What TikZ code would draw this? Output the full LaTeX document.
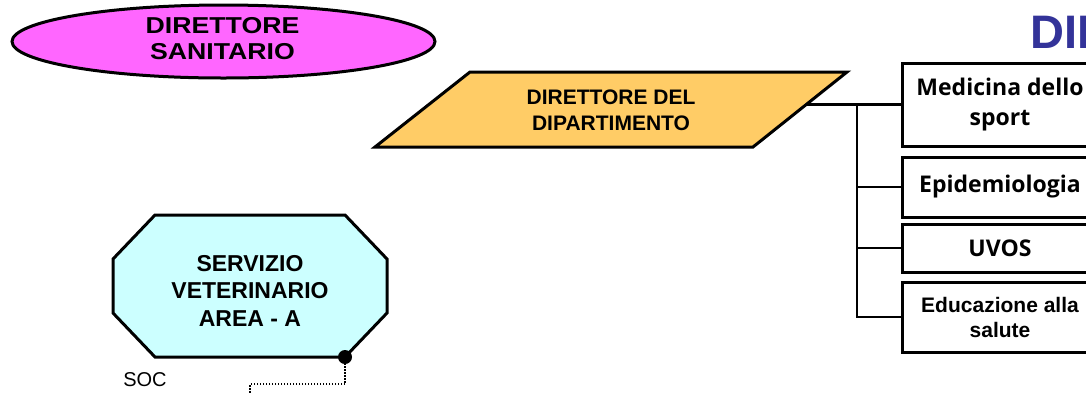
\documentclass[tikz,border=0pt]{standalone}
\usepackage{fontspec}
\setmainfont{Liberation Sans}
\newfontfamily\widefont{Liberation Sans}[FakeStretch=1.16]
\newfontfamily\boxfont{Open Sans}
\usetikzlibrary{shapes.geometric}
\definecolor{magentafill}{RGB}{255,102,255}
\definecolor{orangefill}{RGB}{255,204,102}
\definecolor{cyanfill}{RGB}{204,255,255}
\definecolor{titleblue}{RGB}{51,51,153}
\begin{document}
\begin{tikzpicture}[x=1pt,y=-1pt,
  outline/.style={draw=black, line width=3pt, line join=miter},
  conn/.style={draw=black, line width=2.5pt},
  dotline/.style={draw=black, line width=2pt, dash pattern=on 1.5pt off 1.5pt},
  unit/.style={outline, fill=white, minimum width=196pt, inner sep=0pt, align=center}]
\useasboundingbox (0,0) rectangle (1086,392);
\clip (0,0) rectangle (1086,392);

% title (cut off at the right edge)
\node[anchor=base west, inner sep=0pt, text=titleblue,
      font=\bfseries\fontsize{47}{50}\selectfont] (title) at (1030,48) {DIP};

% Direttore sanitario
\node[ellipse, outline, fill=magentafill, minimum width=423pt, minimum height=73pt,
      inner sep=0pt] (ds) at (223.5,41.5) {};
\node[inner sep=0pt, align=center, font=\widefont\bfseries\fontsize{23}{26}\selectfont] (dslabel) at (222.5,38.5) {DIRETTORE\\SANITARIO};

% Direttore del dipartimento (parallelogram)
\draw[outline, fill=orangefill] (470,72) -- (847,72) -- (753,147) -- (375,147) -- cycle;
\node[inner sep=0pt, align=center, font=\bfseries\fontsize{21}{25.5}\selectfont] (dd) at (611,110.3) {DIRETTORE DEL\\DIPARTIMENTO};
\coordinate (ddr) at (806,104.5);

% units
\node[unit, minimum height=83pt, font=\boxfont\bfseries\fontsize{23}{30}\selectfont] (med) at (1000,104.5) {Medicina dello\\sport};
\node[unit, minimum height=60pt, font=\boxfont\bfseries\fontsize{23}{28}\selectfont] (epi) at (1000,187) {Epidemiologia};
\node[unit, minimum height=48pt, font=\boxfont\bfseries\fontsize{23}{28}\selectfont] (uvos) at (1000,248) {UVOS};
\node[unit, minimum height=70pt, font=\bfseries\fontsize{21}{25}\selectfont] (edu) at (1000,317) {Educazione alla\\salute};

% connectors
\coordinate (bt) at (857,104.5);
\draw[conn] (ddr) -- (med.west);
\draw[conn] (bt) |- (edu.west);
\draw[conn] (bt |- epi.west) -- (epi.west);
\draw[conn] (bt |- uvos.west) -- (uvos.west);

% Servizio veterinario (octagon)
\draw[outline, fill=cyanfill] (155,215) -- (345,215) -- (387,259) -- (387,313) -- (345,357)
  -- (155,357) -- (113,313) -- (113,259) -- cycle;
\node[inner sep=0pt, align=center, font=\bfseries\fontsize{23}{27.5}\selectfont] (vet) at (250,290.5) {SERVIZIO\\VETERINARIO\\AREA - A};
\coordinate (dot) at (345,357);
\fill[black] (dot) circle (7);
\coordinate (dotend) at (250,396);
\draw[dotline] (dot) -- (345,384) -| (dotend);

\node[inner sep=0pt, font=\fontsize{20}{22}\selectfont] (soc) at (145,380) {SOC};
\end{tikzpicture}
\end{document}
